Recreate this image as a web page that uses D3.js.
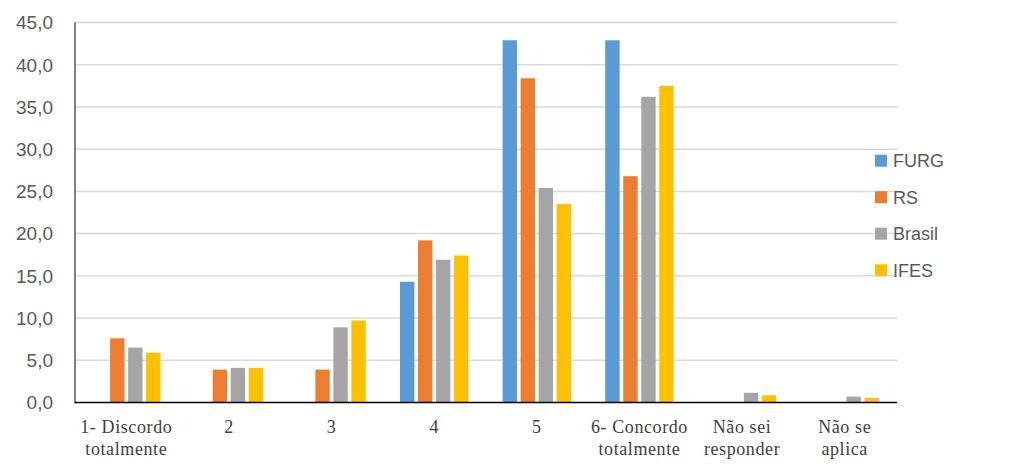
<!DOCTYPE html>
<html><head><meta charset="utf-8">
<script src="https://cdn.jsdelivr.net/npm/d3@7"></script>
<style>body{margin:0;background:#fff}svg{display:block}</style>
</head><body>
<svg id="c" width="1024" height="469"></svg>
<script>
const categories = [["1- Discordo","totalmente"],["2"],["3"],["4"],["5"],["6- Concordo","totalmente"],["Não sei","responder"],["Não se","aplica"]];
const seriesNames = ["FURG","RS","Brasil","IFES"];
const colors = ["#5B9BD5","#ED7D31","#A5A5A5","#FFC000"];
const FURG   = [0, 0, 0, 14.3, 42.9, 42.9, 0, 0];
const RS     = [7.6, 3.9, 3.9, 19.2, 38.4, 26.8, 0, 0];
const Brasil = [6.5, 4.1, 8.9, 16.9, 25.4, 36.2, 1.15, 0.7];
const IFES   = [5.9, 4.1, 9.7, 17.4, 23.5, 37.5, 0.85, 0.55];
const yTicks = [0,5,10,15,20,25,30,35,40,45];
const seriesValues = [FURG, RS, Brasil, IFES];

(function(){
const svg = d3.select("#c");
const mL = 75, mR = 896, mT = 22.5, mB = 402.5;
const x = d3.scaleBand().domain(d3.range(categories.length)).range([mL, mR]).padding(0);
const y = d3.scaleLinear().domain([0,45]).range([mB, mT]);
const groupW = 72, off = (x.bandwidth() - groupW)/2;
const xs = d3.scaleBand().domain(seriesNames).range([0, groupW]).paddingInner(0.2).paddingOuter(0.1);

svg.append("g").selectAll("line").data(yTicks.filter(d=>d>0)).join("line")
  .attr("x1", mL).attr("x2", mR+1).attr("y1", d=>y(d)).attr("y2", d=>y(d))
  .attr("stroke","#d9d9d9").attr("stroke-width",1.5);

svg.append("g").selectAll("text").data(yTicks).join("text")
  .attr("x", 53).attr("y", d=>y(d)).attr("dy","0.36em").attr("text-anchor","end")
  .attr("font-family","'Liberation Sans', Arial, sans-serif").attr("font-size",19).attr("fill","#595959")
  .text(d=>d.toFixed(1).replace(".",","));

seriesNames.forEach((s,si)=>{
  svg.append("g").selectAll("rect").data(seriesValues[si]).join("rect")
    .attr("x",(d,i)=>x(i)+off+xs(s)).attr("width", xs.bandwidth())
    .attr("y", d=>y(d)).attr("height", d=>mB - y(d))
    .attr("fill", colors[si]);
});

svg.append("line").attr("x1",mL).attr("x2",mL).attr("y1",mT).attr("y2",mB+1)
  .attr("stroke","#595959").attr("stroke-width",1.5);
svg.append("line").attr("x1",mL).attr("x2",mR+1).attr("y1",mB).attr("y2",mB)
  .attr("stroke","#000").attr("stroke-width",1.5);

const cl = svg.append("g").selectAll("text").data(categories).join("text")
  .attr("x",(d,i)=>x(i)+x.bandwidth()/2).attr("y",433).attr("text-anchor","middle")
  .attr("font-family","'Liberation Serif', 'Times New Roman', serif").attr("font-size",18)
  .attr("letter-spacing","0.6px").attr("fill","#404040");
cl.selectAll("tspan").data(d=>d).join("tspan")
  .attr("x",function(){return this.parentNode.getAttribute("x");})
  .attr("dy",(d,i)=>i===0?0:22).text(d=>d);

const lg = svg.append("g").selectAll("g").data(seriesNames).join("g")
  .attr("transform",(d,i)=>`translate(875,${160.7 + i*36.5})`);
lg.append("rect").attr("x",0).attr("y",-6).attr("width",12).attr("height",12).attr("fill",(d,i)=>colors[i]);
lg.append("text").attr("x",18).attr("y",0).attr("dy","0.36em")
  .attr("font-family","'Liberation Sans', Arial, sans-serif").attr("font-size",18).attr("fill","#595959").text(d=>d);
})();
</script>
</body></html>
